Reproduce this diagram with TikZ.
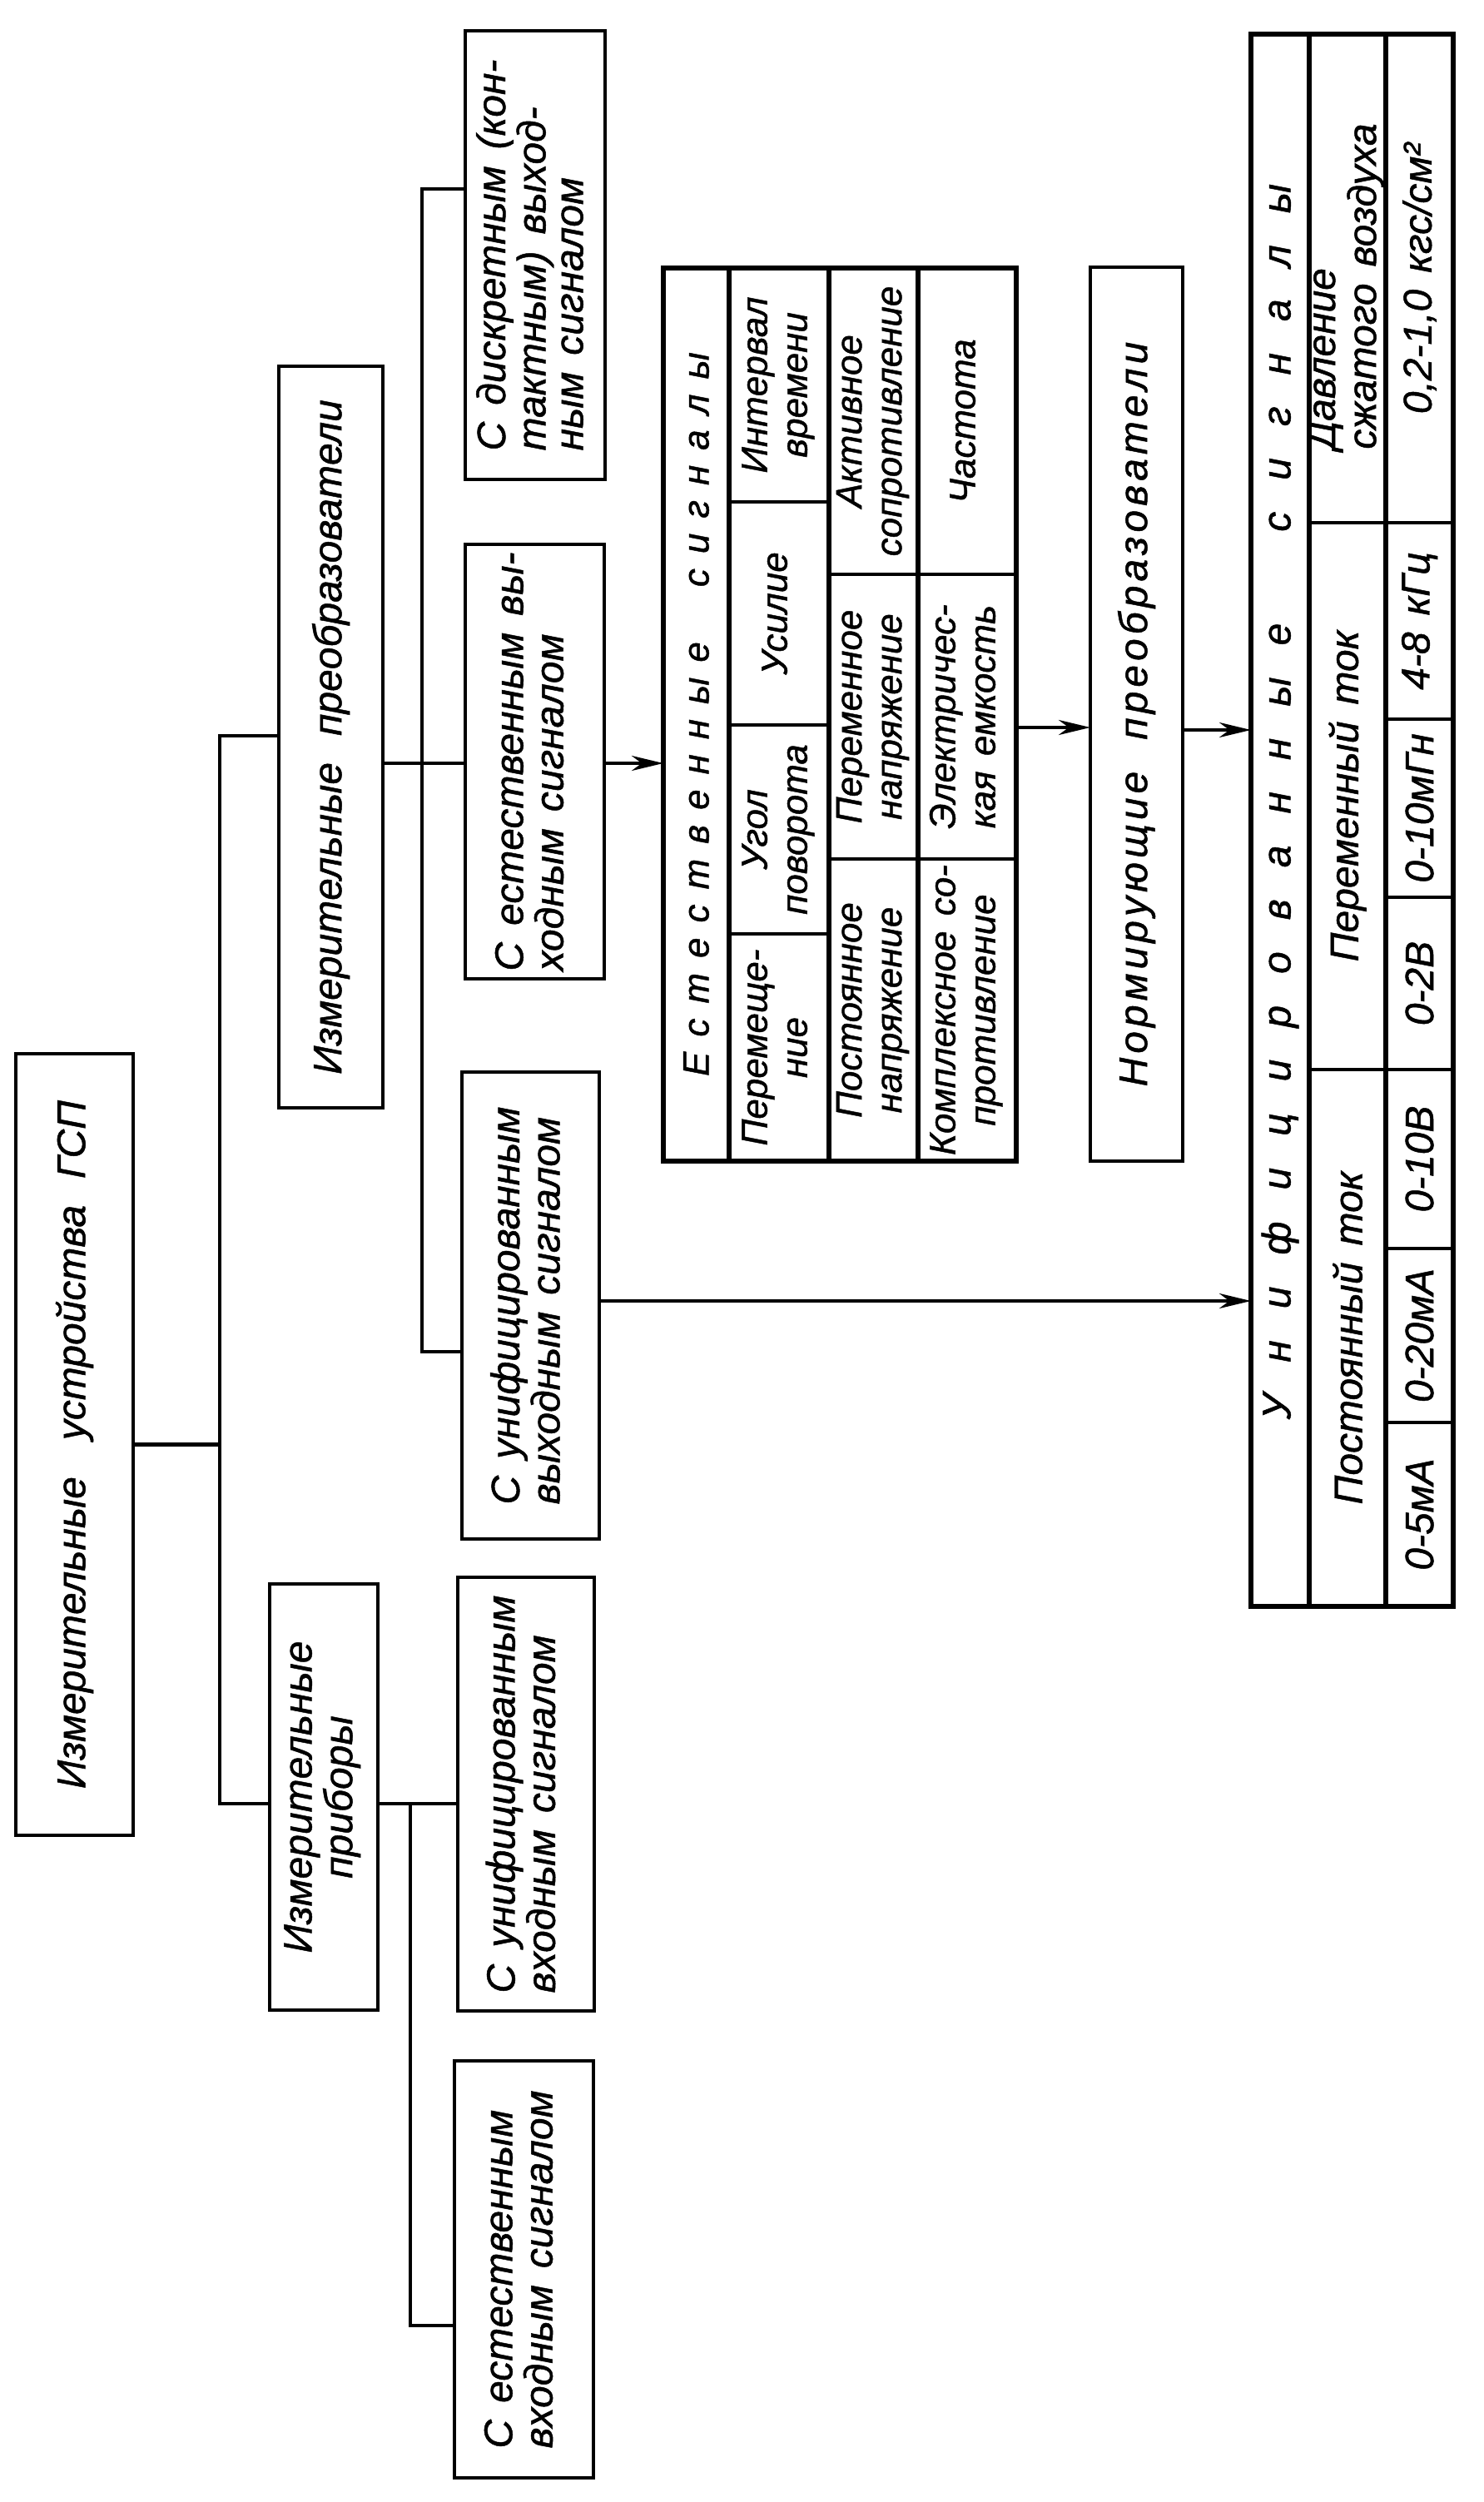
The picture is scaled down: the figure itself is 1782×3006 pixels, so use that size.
\documentclass[tikz,border=0pt]{standalone}
\usepackage{fontspec}
\setmainfont{Liberation Sans}[WordSpace=1.5, FakeBold=1]
\usetikzlibrary{arrows.meta}
\makeatletter
\newcommand\spread[2]{\begingroup\def\spr@sep{}\@tfor\spr@t:=#2\do{\spr@sep\spr@t\def\spr@sep{\hspace{#1}}}\endgroup}
\makeatother
\newcommand\rl[1]{\rotatebox{90}{\begin{tabular}{@{}l@{}}#1\end{tabular}}}
\newcommand\rc[1]{\rotatebox{90}{\begin{tabular}{@{}c@{}}#1\end{tabular}}}
\begin{document}
\begin{tikzpicture}[x=0.5pt,y=-0.5pt,
  every node/.style={inner sep=0pt, outer sep=0pt, font=\itshape\fontsize{24}{22.5}\selectfont},
  box/.style={draw, line width=2.3pt, rectangle},
  tab/.style={draw, line width=2.7pt, rectangle},
  cell/.style={font=\itshape\fontsize{22}{24}\selectfont},
  ucell/.style={font=\itshape\fontsize{24}{24}\selectfont},
  ln/.style={line width=2.2pt},
  heavy/.style={line width=2.7pt},
  rowsep/.style={line width=1.9pt},
  arr/.style={line width=2.2pt, -{Stealth[length=19pt,width=9pt,inset=6pt]}}
]
\useasboundingbox (0,0) rectangle (1782,3006);

% boxes
\node[box, minimum width=70.5pt, minimum height=469.5pt] (A) at (89.5,1735.5) {\rotatebox{90}{Измерительные\hspace{22pt}устройства\hspace{16pt}ГСП}};
\node[box, minimum width=62.5pt, minimum height=445.5pt] (B) at (397.5,885.5) {\rotatebox{90}{Измерительные\hspace{16pt}преобразователи}};
\node[box, minimum width=65pt, minimum height=256pt] (C) at (389,2159) {\rc{Измерительные\\приборы}};
\node[box, minimum width=82pt, minimum height=260.5pt] (D) at (632,2155.5) {\rl{С унифицированным\\входным сигналом}};
\node[box, minimum width=83.5pt, minimum height=250.5pt] (E) at (629.5,2726.5) {\rl{С естественным\\входным сигналом}};
\node[box, minimum width=84pt, minimum height=269.5pt] (G) at (643,306.5) {\rl{С дискретным (кон-\\тактным) выход-\\ным сигналом}};
\node[box, minimum width=83.5pt, minimum height=261pt] (H) at (642.5,915) {\rl{С естественным вы-\\ходным сигналом}};
\node[box, minimum width=82.5pt, minimum height=280.5pt] (F) at (637.5,1568.5) {\rl{С унифицированным\\выходным сигналом}};
\node[box, minimum width=55.5pt, minimum height=537pt] (N) at (1365.5,858) {\rotatebox{90}{\spread{2.5pt}{Нормирующие}\hspace{19pt}\spread{2.5pt}{преобразователи}}};

% table of natural signals
\node[tab, minimum width=212pt, minimum height=536.5pt] (TE) at (1009,858.5) {};
\draw[heavy] (876,322) -- (876,1395);
\draw[heavy] (996,322) -- (996,1395);
\draw[heavy] (1103,322) -- (1103,1395);
\draw[rowsep] (876,603) -- (996,603);
\draw[rowsep] (876,871) -- (996,871);
\draw[rowsep] (876,1122) -- (996,1122);
\draw[rowsep] (996,690) -- (1221,690);
\draw[rowsep] (996,1032) -- (1221,1032);
\node[cell] (TEt) at (836.5,858) {\rotatebox{90}{\spread{9pt}{Естественные}\hspace{33pt}\spread{9pt}{сигналы}}};
\node[cell] (e1) at (936,1258.5) {\rc{Перемеще-\\ние}};
\node[cell] (e2) at (936,996.5) {\rc{Угол\\поворота}};
\node[cell] (e3) at (936,737) {\rc{Усилие}};
\node[cell] (e4) at (936,462.5) {\rc{Интервал\\времени}};
\node[cell] (e5) at (1049.5,1213.5) {\rc{Постоянное\\напряжение}};
\node[cell] (e6) at (1049.5,861) {\rc{Переменное\\напряжение}};
\node[cell] (e7) at (1049.5,506) {\rc{Активное\\сопротивление}};
\node[cell] (e8) at (1162,1213.5) {\rc{Комплексное со-\\противление}};
\node[cell] (e9) at (1162,861) {\rc{Электричес-\\кая емкость}};
\node[cell] (e10) at (1162,506) {\rc{Частота}};

% table of unified signals
\node[tab, minimum width=121.5pt, minimum height=944.5pt] (TU) at (1624.5,985.5) {};
\draw[heavy] (1573,41) -- (1573,1930);
\draw[heavy] (1665,41) -- (1665,1930);
\draw[rowsep] (1573,628) -- (1746,628);
\draw[rowsep] (1573,1285) -- (1746,1285);
\draw[rowsep] (1665,864) -- (1746,864);
\draw[rowsep] (1665,1078) -- (1746,1078);
\draw[rowsep] (1665,1500) -- (1746,1500);
\draw[rowsep] (1665,1709) -- (1746,1709);
\node[ucell] (TUt) at (1538,963) {\rotatebox{90}{\spread{19pt}{Унифицированные}\hspace{55pt}\spread{19pt}{сигналы}}};
\node[ucell] (u1) at (1619,344) {\rl{Давление\\сжатого воздуха}};
\node[ucell] (u2) at (1619,956.5) {\rotatebox{90}{Переменный ток}};
\node[ucell] (u3) at (1619,1607.5) {\rotatebox{90}{Постоянный ток}};
\node[ucell] (v1) at (1705.5,334.5) {\rotatebox{90}{0,2-1,0 кгс/см²}};
\node[ucell] (v2) at (1705.5,746) {\rotatebox{90}{4-8 кГц}};
\node[ucell] (v3) at (1705.5,971) {\rotatebox{90}{0-10мГн}};
\node[ucell] (v4) at (1705.5,1181.5) {\rotatebox{90}{0-2В}};
\node[ucell] (v5) at (1705.5,1392.5) {\rotatebox{90}{0-10В}};
\node[ucell] (v6) at (1705.5,1604.5) {\rotatebox{90}{0-20мА}};
\node[ucell] (v7) at (1705.5,1819.5) {\rotatebox{90}{0-5мА}};

% connectors
\coordinate (t1) at (264,884);
\coordinate (t2) at (264,2167);
\draw[ln] (A.east) -- (A.east -| t1);
\draw[ln] (B.west |- t1) -- (t1) -- (t2) -- (t2 -| C.west);
\coordinate (p1) at (493,2167);
\coordinate (p2) at (493,2794);
\draw[ln] (p1 -| C.east) -- (p1 -| D.west);
\draw[ln] (p1) -- (p2) -- (p2 -| E.west);
\coordinate (q1) at (507,227);
\coordinate (q2) at (507,917);
\coordinate (q3) at (507,1624);
\draw[ln] (q1 -| G.west) -- (q1) -- (q3) -- (q3 -| F.west);
\draw[ln] (q2 -| B.east) -- (q2 -| H.west);
\coordinate (r1) at (0,1563);
\coordinate (r2) at (0,874);
\coordinate (r3) at (0,877);
\draw[arr] (q2 -| H.east) -- (q2 -| TE.west);
\draw[arr] (r1 -| F.east) -- (r1 -| TU.west);
\draw[arr] (r2 -| TE.east) -- (r2 -| N.west);
\draw[arr] (r3 -| N.east) -- (r3 -| TU.west);
\end{tikzpicture}
\end{document}
